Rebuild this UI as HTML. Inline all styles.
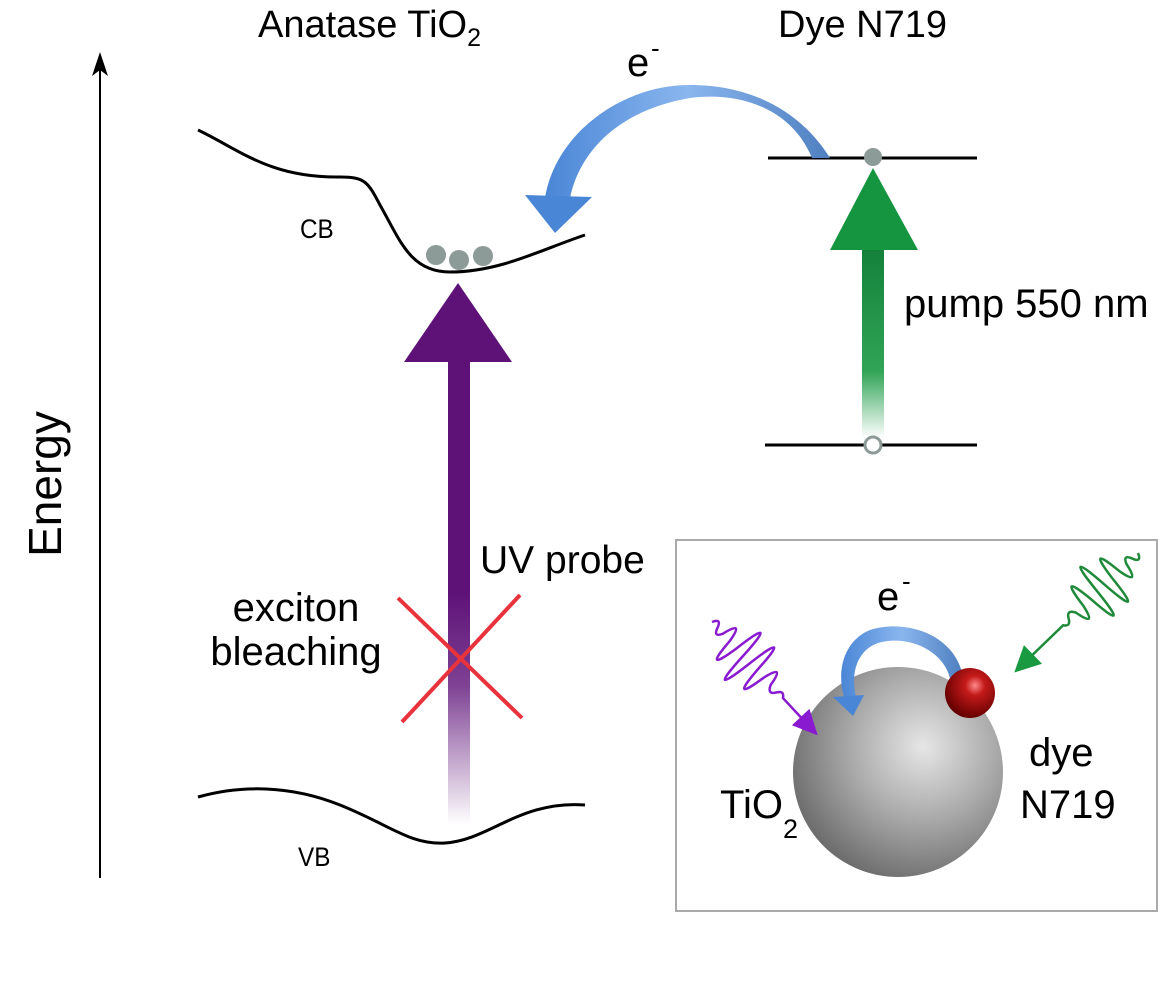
<!DOCTYPE html>
<html><head><meta charset="utf-8"><style>
html,body{margin:0;padding:0;background:#fff;}
svg{display:block;font-family:"Liberation Sans",sans-serif;}
</style></head><body>
<svg width="1173" height="1003" viewBox="0 0 1173 1003" xmlns="http://www.w3.org/2000/svg">
<defs>
<linearGradient id="pg" x1="0" y1="1" x2="0" y2="0">
<stop offset="0" stop-color="#5e1278" stop-opacity="0"/>
<stop offset="0.3" stop-color="#5e1278" stop-opacity="0.8"/>
<stop offset="0.5" stop-color="#5e1278"/>
<stop offset="1" stop-color="#5e1278"/>
</linearGradient>
<linearGradient id="gg" x1="0" y1="1" x2="0" y2="0">
<stop offset="0" stop-color="#1a9a44" stop-opacity="0"/>
<stop offset="0.35" stop-color="#1a9a44" stop-opacity="0.9"/>
<stop offset="1" stop-color="#13803a"/>
</linearGradient>
<linearGradient id="bg" x1="0" y1="0" x2="1" y2="0">
<stop offset="0" stop-color="#4a86d6"/>
<stop offset="0.5" stop-color="#8ab6ee"/>
<stop offset="1" stop-color="#4f7fc0"/>
</linearGradient>
<radialGradient id="sph" cx="0.62" cy="0.38" r="0.7">
<stop offset="0" stop-color="#e6e6e6"/>
<stop offset="0.5" stop-color="#a9a9a9"/>
<stop offset="1" stop-color="#666"/>
</radialGradient>
<radialGradient id="red" cx="0.6" cy="0.35" r="0.65">
<stop offset="0" stop-color="#ff8a8a"/>
<stop offset="0.3" stop-color="#c41a1a"/>
<stop offset="1" stop-color="#600"/>
</radialGradient>
</defs>
<!-- energy axis -->
<line x1="100" y1="62" x2="100" y2="878" stroke="#000" stroke-width="2"/>
<polygon points="100,52 92,76 100,70 108,76" fill="#000"/>
<text x="0" y="0" font-size="46" transform="translate(61,484) rotate(-90)" text-anchor="middle">Energy</text>
<!-- titles -->
<text x="258" y="37" font-size="38">Anatase TiO<tspan font-size="25" dy="9">2</tspan></text>
<text x="778" y="37" font-size="38">Dye N719</text>
<text x="627" y="76" font-size="40">e</text><text x="651" y="57" font-size="26">-</text>
<!-- CB -->
<path d="M198,130 C240,150 270,178 340,177 C365,177 368,182 380,205 C400,240 410,272 450,272 C500,272 540,250 585,235" fill="none" stroke="#000" stroke-width="3"/>
<text x="300" y="238" font-size="27" transform="translate(300,0) scale(0.9,1) translate(-300,0)">CB</text>
<circle cx="436" cy="255" r="10" fill="#8c9a98"/>
<circle cx="459" cy="260" r="10" fill="#8c9a98"/>
<circle cx="483" cy="256" r="10" fill="#8c9a98"/>
<!-- VB -->
<path d="M198,797 C240,785 290,785 340,805 C390,825 410,845 445,843 C490,840 520,800 585,805" fill="none" stroke="#000" stroke-width="3"/>
<text x="298" y="866" font-size="27" transform="translate(298,0) scale(0.9,1) translate(-298,0)">VB</text>
<!-- purple arrow -->
<rect x="448" y="360" width="22" height="465" fill="url(#pg)"/>
<polygon points="458,283 404,362 512,362" fill="#5e1278"/>
<!-- red X -->
<line x1="398" y1="598" x2="522" y2="718" stroke="#e8323c" stroke-width="4"/>
<line x1="520" y1="595" x2="402" y2="722" stroke="#e8323c" stroke-width="4"/>
<text x="480" y="573" font-size="39">UV probe</text>
<text x="296" y="621" font-size="40" text-anchor="middle">exciton</text>
<text x="296" y="665" font-size="40" text-anchor="middle">bleaching</text>
<!-- dye levels -->
<line x1="768" y1="158" x2="977" y2="158" stroke="#000" stroke-width="3"/>
<line x1="765" y1="445" x2="977" y2="445" stroke="#000" stroke-width="3"/>
<rect x="862" y="248" width="22" height="190" fill="url(#gg)"/>
<polygon points="873,168 830,250 918,250" fill="#169540"/>
<circle cx="873" cy="157" r="9" fill="#8c9a98"/>
<circle cx="873" cy="445" r="8" fill="#fff" stroke="#8c9a98" stroke-width="3"/>
<text x="904" y="317" font-size="40">pump 550 nm</text>
<!-- blue curved arrow -->
<path d="M812,158 C790,105 735,92 690,98 C620,110 580,150 570,198 L545,198 C555,135 620,85 690,85 C750,85 800,110 830,158 Z" fill="url(#bg)"/>
<polygon points="525,195 592,197 555,233" fill="#4a86d6"/>
<!-- inset -->
<rect x="676" y="540" width="481" height="371" fill="#fff" stroke="#aaa" stroke-width="2"/>
<circle cx="898" cy="772" r="105" fill="url(#sph)"/>
<path d="M962,672 C950,630 900,620 870,630 C845,640 835,670 845,700 L856,697 C850,672 858,650 878,643 C905,635 942,648 950,678 Z" fill="url(#bg)"/>
<polygon points="833,697 864,695 853,716" fill="#4a86d6"/>
<circle cx="970" cy="693" r="25" fill="url(#red)"/>
<!-- purple wave packet -->
<g transform="translate(712,622) rotate(47)">
<path d="M0,0 Q4,-10 8,0 Q12,10 16,0 Q21,-26 26,0 Q31,44 36,0 Q41,-56 46,0 Q51,60 56,0 Q61,-56 66,0 Q71,44 76,0 Q81,-26 86,0 Q91,10 96,0 Q100,-6 104,0 L133,0" fill="none" stroke="#8a1ad0" stroke-width="2.5"/>
<polygon points="155,0 130,-12 130,12" fill="#8a1ad0"/>
</g>
<!-- green wave packet -->
<g transform="translate(1138,553) rotate(136)">
<path d="M0,0 Q4,-10 8,0 Q12,10 16,0 Q21,-26 26,0 Q31,44 36,0 Q41,-56 46,0 Q51,60 56,0 Q61,-56 66,0 Q71,44 76,0 Q81,-26 86,0 Q91,10 96,0 Q100,-6 104,0 L150,0" fill="none" stroke="#1f8a3a" stroke-width="2.5"/>
<polygon points="172,0 146,-13 146,13" fill="#1a9a40"/>
</g>
<text x="877" y="610" font-size="40">e</text><text x="902" y="590" font-size="26">-</text>
<text x="1029" y="766" font-size="40">dye</text>
<text x="1020" y="818" font-size="40">N719</text>
<text x="720" y="818" font-size="40">TiO<tspan font-size="27" dy="20">2</tspan></text>
</svg>
</body></html>
